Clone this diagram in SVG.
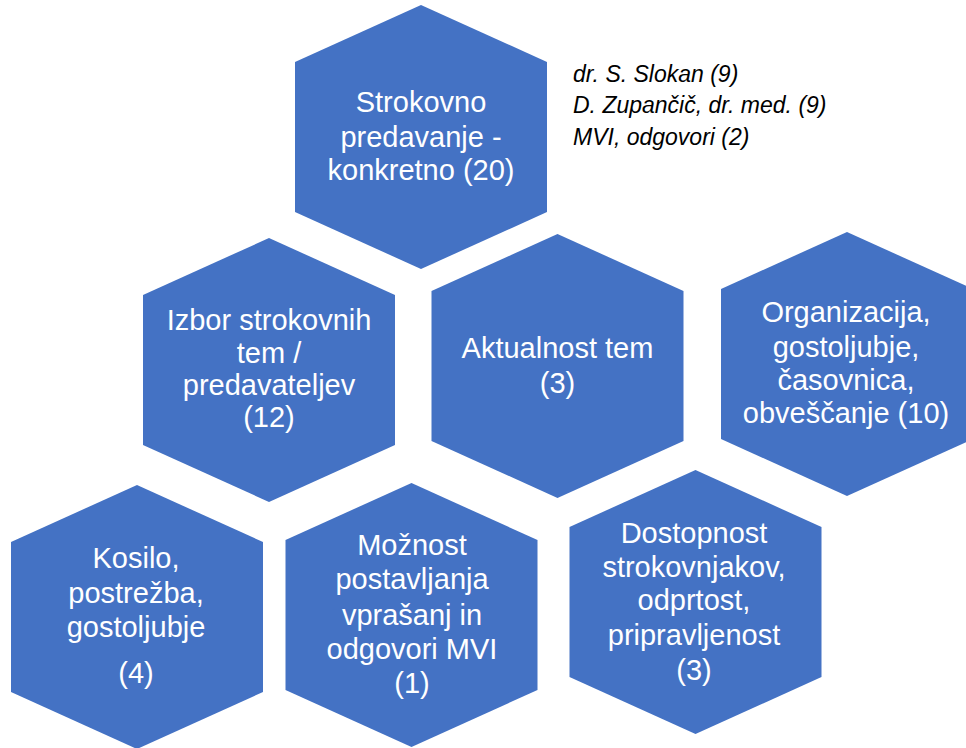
<svg xmlns="http://www.w3.org/2000/svg" xmlns:xlink="http://www.w3.org/1999/xlink" width="966" height="748" viewBox="0 0 966 748">
<style>
.hex{fill:#4472C4;}
.t{font-family:"Liberation Sans",Arial,sans-serif;font-size:29px;fill:#FFFFFF;text-anchor:middle;}
.note{font-family:"Liberation Sans",Arial,sans-serif;font-size:23px;font-style:italic;fill:#000000;}
</style>
<defs>
<polygon id="hx" points="0,0 126,57 126,207 0,264 -126,207 -126,57"/>
</defs>
<rect width="966" height="748" fill="#FFFFFF"/>
<g id="connectors"></g>
<g id="n1"><use xlink:href="#hx" class="hex" x="421" y="5"/>
<text class="t"><tspan x="421" y="112">Strokovno</tspan><tspan x="421" y="147">predavanje -</tspan><tspan x="421" y="180">konkretno (20)</tspan></text></g>
<g id="n2"><use xlink:href="#hx" class="hex" x="269" y="238"/>
<text class="t"><tspan x="269" y="330">Izbor strokovnih</tspan><tspan x="269" y="363">tem /</tspan><tspan x="269" y="395">predavateljev</tspan><tspan x="269" y="427">(12)</tspan></text></g>
<g id="n3"><use xlink:href="#hx" class="hex" x="557.5" y="234"/>
<text class="t"><tspan x="557.5" y="358">Aktualnost tem</tspan><tspan x="557.5" y="393">(3)</tspan></text></g>
<g id="n4"><use xlink:href="#hx" class="hex" x="847" y="232"/>
<text class="t"><tspan x="846" y="322">Organizacija,</tspan><tspan x="846" y="357">gostoljubje,</tspan><tspan x="846" y="390">časovnica,</tspan><tspan x="846" y="423">obveščanje (10)</tspan></text></g>
<g id="n5"><use xlink:href="#hx" class="hex" x="137" y="485"/>
<text class="t"><tspan x="136" y="568">Kosilo,</tspan><tspan x="136" y="603">postrežba,</tspan><tspan x="136" y="637">gostoljubje</tspan><tspan x="136" y="683">(4)</tspan></text></g>
<g id="n6"><use xlink:href="#hx" class="hex" x="411.5" y="483"/>
<text class="t"><tspan x="412" y="555">Možnost</tspan><tspan x="412" y="589">postavljanja</tspan><tspan x="412" y="625">vprašanj in</tspan><tspan x="412" y="659">odgovori MVI</tspan><tspan x="412" y="693">(1)</tspan></text></g>
<g id="n7"><use xlink:href="#hx" class="hex" x="695.5" y="470"/>
<text class="t"><tspan x="694" y="543">Dostopnost</tspan><tspan x="694" y="577">strokovnjakov,</tspan><tspan x="694" y="610">odprtost,</tspan><tspan x="694" y="645">pripravljenost</tspan><tspan x="694" y="680">(3)</tspan></text></g>
<g id="notes">
<text class="note" x="573" y="82">dr. S. Slokan (9)</text>
<text class="note" x="573" y="113">D. Zupančič, dr. med. (9)</text>
<text class="note" x="573" y="145">MVI, odgovori (2)</text>
</g>
</svg>
